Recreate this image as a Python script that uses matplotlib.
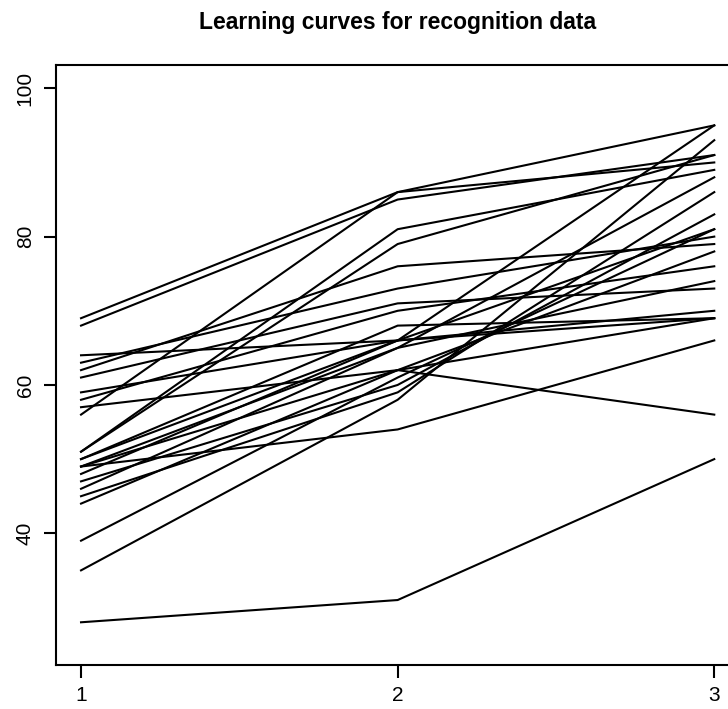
import matplotlib
matplotlib.use("Agg")
import matplotlib.pyplot as plt

plt.rcParams['font.family'] = ['Liberation Sans', 'DejaVu Sans']

sessions = [1, 2, 3]
session_labels = ["1", "2", "3"]
y_ticks = [40, 60, 80, 100]
title = "Learning curves for recognition data"

# each subject: scores at sessions 1, 2, 3
s01 = [69, 86, 95]
s02 = [68, 85, 91]
s03 = [64, 66, 69]
s04 = [63, 73, 80]
s05 = [62, 76, 79]
s06 = [61, 71, 73]
s07 = [59, 66, 70]
s08 = [58, 70, 76]
s09 = [57, 62, 69]
s10 = [56, 86, 90]
s11 = [51, 81, 89]
s12 = [51, 79, 91]
s13 = [50, 68, 69]
s14 = [49, 54, 66]
s15 = [49, 62, 56]
s16 = [48, 66, 81]
s17 = [47, 60, 83]
s18 = [46, 65, 88]
s19 = [45, 59, 86]
s20 = [44, 62, 78]
s21 = [39, 61, 81]
s22 = [35, 58, 93]
s23 = [28, 31, 50]
s24 = [50, 66, 95]
s25 = [49, 65, 74]
subjects = [s01, s02, s03, s04, s05, s06, s07, s08, s09, s10, s11, s12,
            s13, s14, s15, s16, s17, s18, s19, s20, s21, s22, s23, s24, s25]

W, H = 728, 709
fig = plt.figure(figsize=(W / 100, H / 100), dpi=100)
left, right, top, bottom = 55.7, 739.6, 65.3, 665.3
ax = fig.add_axes([left / W, 1 - bottom / H, (right - left) / W, (bottom - top) / H])

for s in subjects:
    ax.plot(sessions, s, color='black', lw=1.5, solid_joinstyle='round')

ax.set_xlim(1 - 0.08, 3 + 0.08)
ax.set_ylim(22.2, 103.1)
ax.set_xticks(sessions)
ax.set_xticklabels(session_labels)
ax.set_yticks(y_ticks)
ax.set_yticklabels([str(v) for v in y_ticks], rotation=90, va='center')
for sp in ax.spines.values():
    sp.set_linewidth(1.5)
ax.tick_params(axis='both', length=9, width=1.5, labelsize=15, direction='out')
ax.tick_params(axis='x', pad=6)
ax.tick_params(axis='y', pad=6)

fig.text((left + right) / 2 / W, 1 - 22 / H, title, ha='center', va='center',
         fontsize=16.5, fontweight='bold')

fig.savefig("out.png", dpi=100)
